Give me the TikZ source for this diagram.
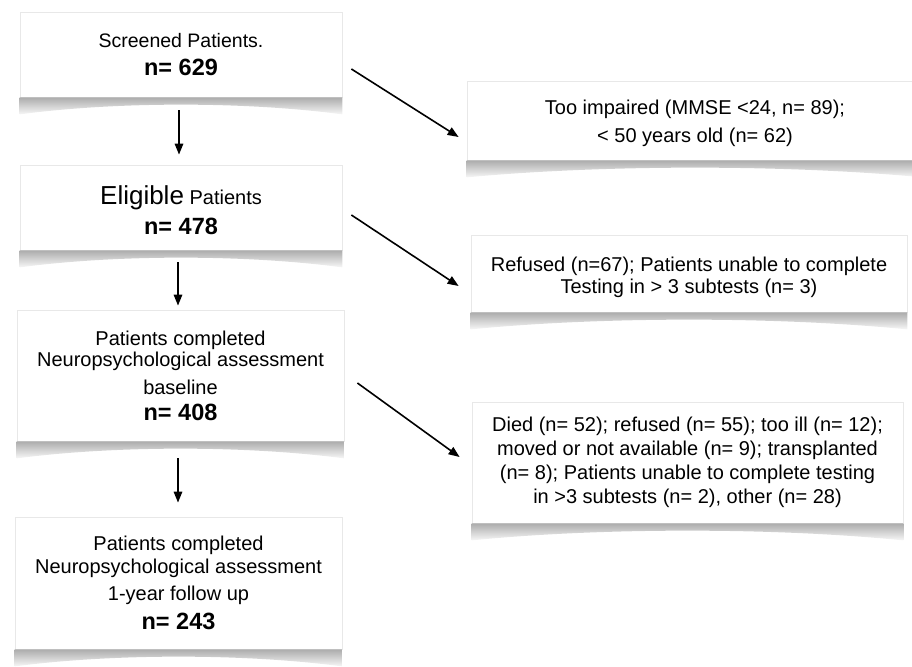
\documentclass[tikz,border=0pt]{standalone}
\usepackage{fontspec}
\setmainfont{Liberation Sans}
\usetikzlibrary{arrows.meta,calc}
\tikzset{
  box/.style={draw=gray!18, line width=0.8pt, fill=white, inner sep=0pt, align=center,
    font=\fontsize{20}{23}\selectfont},
  arr/.style={-{Triangle[length=11pt,width=8.5pt]}, line width=1.6pt},
  shadowfill/.style={top color=gray!65, bottom color=gray!6},
}
\newcommand\nbig[1]{{\fontsize{23.5}{26}\selectfont\bfseries #1}}
\newcommand\tstrut[1]{\rule{0pt}{#1pt}}
\newcommand\papershadow[1]{%
  \shade[shadowfill] (#1.south west) -- ([yshift=-17pt]#1.south west)
    .. controls ($(#1.south west)!0.3!(#1.south east)+(0,-4pt)$) and
       ($(#1.south west)!0.7!(#1.south east)+(0,-4pt)$) .. ([yshift=-17pt]#1.south east)
    -- (#1.south east) -- cycle;}
\begin{document}
\begin{tikzpicture}[x=1pt,y=-1pt]
\useasboundingbox (0,0) rectangle (912,666);
% left column
\node[box, minimum width=322pt, minimum height=85pt] (b1) at (181,54.5)
  {{\fontsize{19.5}{23}\selectfont Screened Patients.}\\[5pt]\nbig{n= 629}};
\node[box, minimum width=322pt, minimum height=85pt] (b2) at (181,207.5)
  {\tstrut{25}{\fontsize{26}{28}\selectfont Eligible} Patients\\[7pt]\nbig{n= 478}};
\node[box, minimum width=327pt, minimum height=131pt] (b3) at (180.5,375.5)
  {Patients completed\\[-2pt]Neuropsychological assessment\\[5pt]baseline\\[3pt]\nbig{n= 408}};
\node[box, minimum width=327pt, minimum height=132pt] (b4) at (178.5,583)
  {Patients completed\\[0pt]Neuropsychological assessment\\[4pt]1-year follow up\\[6pt]\nbig{n= 243}};
% right column
\node[box, minimum width=456pt, minimum height=79pt] (bA) at (695,120.5)
  {\tstrut{21}Too impaired (MMSE <24, n= 89);\\[5pt]< 50 years old (n= 62)};
\node[box, minimum width=436pt, minimum height=77pt] (bB) at (689,273.5)
  {\tstrut{22}Refused (n=67); Patients unable to complete\\[-1pt]Testing in > 3 subtests (n= 3)};
\node[box, minimum width=431pt, minimum height=121pt] (bC) at (687.5,462.5)
  {Died (n= 52); refused (n= 55); too ill (n= 12);\\[1pt]moved or not available (n= 9); transplanted\\[1pt](n= 8); Patients unable to complete testing\\[1pt]in >3 subtests (n= 2), other (n= 28)};
% shadows
\papershadow{b1}\papershadow{b2}\papershadow{b3}\papershadow{b4}
\papershadow{bA}\papershadow{bB}\papershadow{bC}
% vertical arrows
\draw[arr] ([shift={(-2,13)}]b1.south) -- ([shift={(-2,-10)}]b2.north);
\draw[arr] ([shift={(-3,12)}]b2.south) -- ([shift={(-2.5,-4)}]b3.north);
\draw[arr] ([shift={(-2.5,17)}]b3.south) -- ([shift={(-0.5,-14)}]b4.north);
% diagonal arrows
\draw[arr] ([shift={(9,14.5)}]b1.east) -- ([shift={(-8,16.5)}]bA.west);
\draw[arr] ([shift={(9,7.5)}]b2.east) -- ([shift={(-12,12.5)}]bB.west);
\draw[arr] ([shift={(13,7.5)}]b3.east) -- ([shift={(-12,-5.5)}]bC.west);
\end{tikzpicture}
\end{document}
